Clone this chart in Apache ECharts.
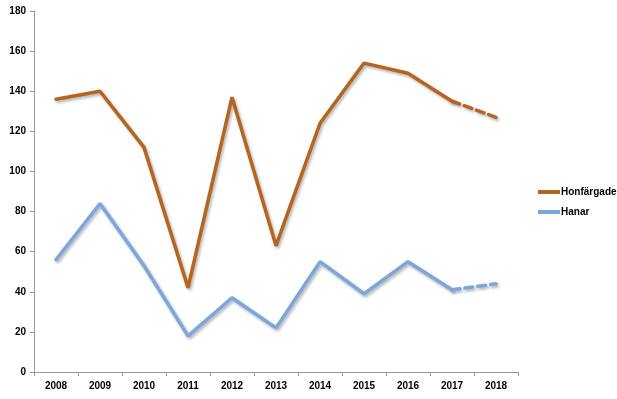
<!DOCTYPE html>
<html>
<head>
<meta charset="utf-8">
<script src="https://cdn.jsdelivr.net/npm/echarts@6/dist/echarts.min.js"></script>
<style>
  html, body { margin: 0; padding: 0; background: #fff; }
  #chart { width: 617px; height: 399px; }
</style>
</head>
<body>
<div id="chart"></div>
<script>
var years = ['2008', '2009', '2010', '2011', '2012', '2013', '2014', '2015', '2016', '2017', '2018'];
var honfargade = [136, 140, 112, 42, 137, 63, 124, 154, 149, 135, 127];
var hanar = [56, 84, 53, 18, 37, 22, 55, 39, 55, 41, 44];
// last segment (2017 -> 2018) is drawn dashed
var lastSolid = 9;

var brown = '#B5651D';
var blue = '#7BA7DE';

function solidPart(arr) {
  return arr.map(function (v, i) { return i <= lastSolid ? v : '-'; });
}
function dashPart(arr) {
  return arr.map(function (v, i) { return i >= lastSolid ? v : '-'; });
}
function line(name, color, data, dashed) {
  return {
    name: name,
    type: 'line',
    data: data,
    symbol: 'none',
    silent: true,
    color: color,
    lineStyle: {
      width: 3.5,
      color: color,
      type: dashed ? [8, 5] : 'solid',
      cap: 'round',
      shadowColor: 'rgba(0,0,0,0.3)',
      shadowBlur: 3,
      shadowOffsetX: 1.5,
      shadowOffsetY: 2
    }
  };
}

var chart = echarts.init(document.getElementById('chart'));
chart.setOption({
  animation: false,
  grid: { left: 34, right: 99, top: 11, bottom: 27 },
  legend: {
    orient: 'vertical',
    left: 533,
    top: 182,
    itemGap: 10,
    itemWidth: 22,
    itemHeight: 4,
    icon: 'rect',
    selectedMode: false,
    data: ['Honfärgade', 'Hanar'],
    textStyle: { fontFamily: 'Liberation Sans', fontWeight: 'bold', fontSize: 10, color: '#000', padding: [0, 0, 0, -4] }
  },
  xAxis: {
    type: 'category',
    data: years,
    boundaryGap: true,
    axisLine: { lineStyle: { color: '#999' } },
    axisTick: { show: true, length: 4, lineStyle: { color: '#999' } },
    axisLabel: { fontFamily: 'Liberation Sans', fontWeight: 'bold', fontSize: 10, color: '#000', margin: 9 }
  },
  yAxis: {
    type: 'value',
    min: 0,
    max: 180,
    interval: 20,
    splitLine: { show: false },
    axisLine: { show: true, lineStyle: { color: '#999' } },
    axisTick: { show: true, length: 4, lineStyle: { color: '#999' } },
    axisLabel: { fontFamily: 'Liberation Sans', fontWeight: 'bold', fontSize: 10, color: '#000', margin: 8 }
  },
  series: [
    line('Honfärgade', brown, solidPart(honfargade), false),
    line('Honfärgade', brown, dashPart(honfargade), true),
    line('Hanar', blue, solidPart(hanar), false),
    line('Hanar', blue, dashPart(hanar), true)
  ]
});
</script>
</body>
</html>
